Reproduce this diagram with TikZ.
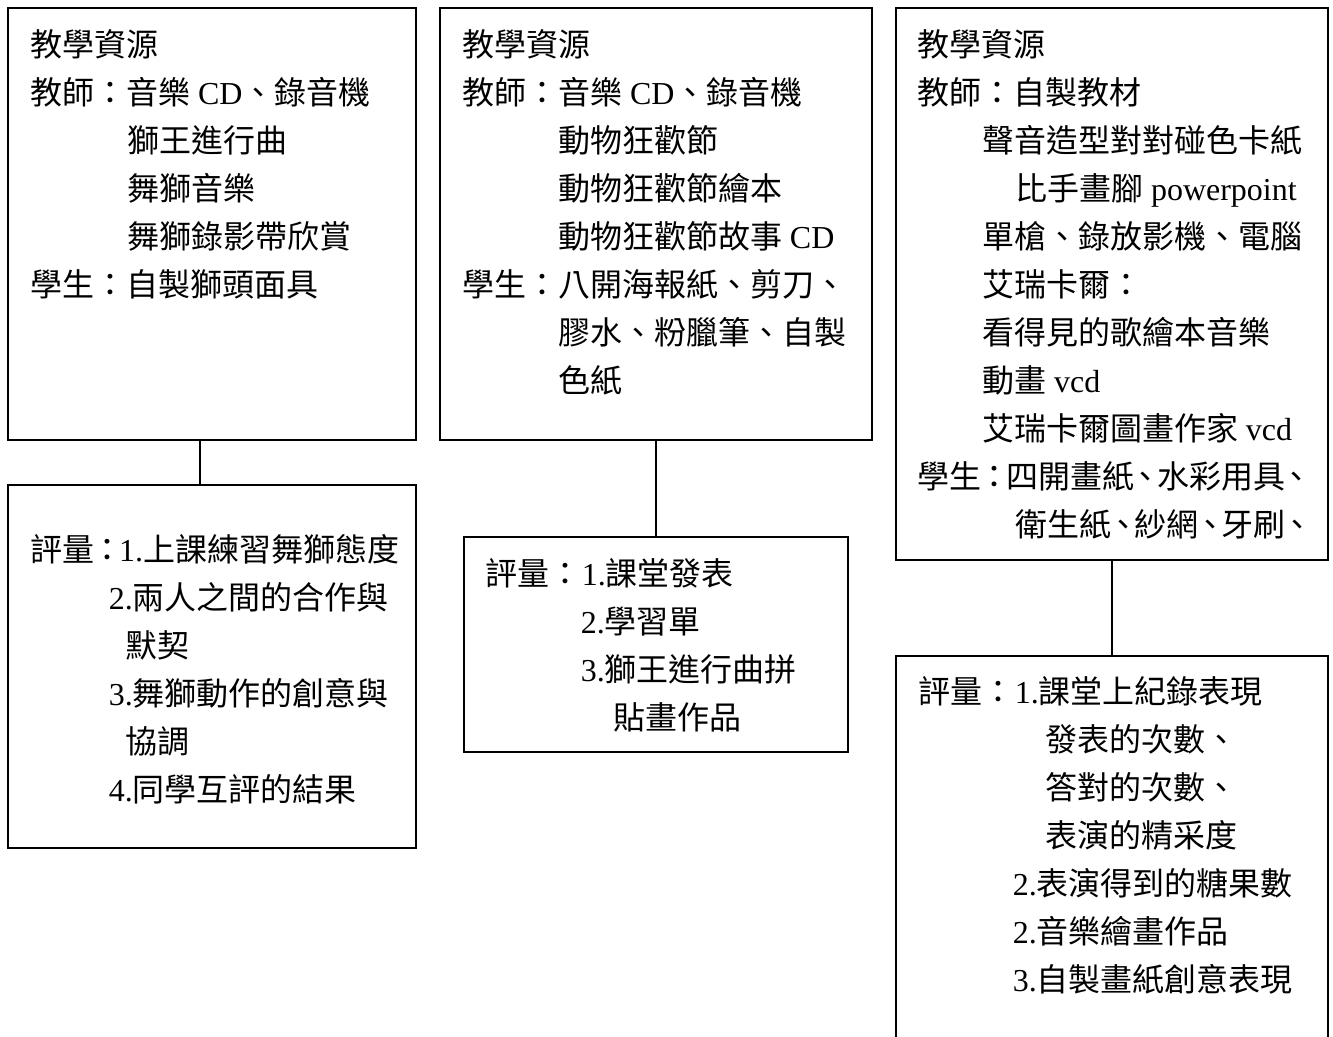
\documentclass[tikz,border=0pt]{standalone}
\usepackage{fontspec}
\newfontfamily\cjk{Noto Sans CJK TC}
\newfontfamily\romfont{Liberation Serif}
\newcommand\rom[1]{{\romfont #1}}
\newlength\px
\setlength\px{0.02cm}
\newcommand\ind[1]{\hspace*{#1\px}}
\newcommand\dun{\makebox[0.72em]{、}}
\newcommand\mao{\makebox[0.76em]{：}}
\begin{document}
\begin{tikzpicture}[x=0.02cm, y=-0.02cm, line width=1.1pt,
    box/.style={draw, rectangle, inner sep=0pt},
    txt/.style={anchor=north west, inner sep=0pt, align=left,
      font=\cjk\fontsize{18.2pt}{27.3pt}\selectfont}]
  \useasboundingbox (0,0) rectangle (1333,1037);
  \clip (0,0) rectangle (1333,1037);
  % boxes
  \node[box, minimum width=8.16cm, minimum height=8.64cm] (resA) at (212,224) {};
  \node[box, minimum width=8.16cm, minimum height=7.26cm] (evalA) at (212,666.5) {};
  \node[box, minimum width=8.64cm, minimum height=8.64cm] (resB) at (656,224) {};
  \node[box, minimum width=7.68cm, minimum height=4.30cm] (evalB) at (656,644.5) {};
  \node[box, minimum width=8.64cm, minimum height=11.04cm] (resC) at (1112,284) {};
  \node[box, minimum width=8.64cm, minimum height=8.88cm] (evalC) at (1112,878) {};
  % links
  \draw ([xshift=-0.24cm]resA.south) -- ([xshift=-0.24cm]evalA.north);
  \draw (resB.south) -- (evalB.north);
  \draw (resC.south) -- (evalC.north);
  % texts
  \node[txt] (resAtxt) at (30,29) {教學資源\\
    教師：音樂 \rom{CD}、錄音機\\
    \ind{97}獅王進行曲\\
    \ind{97}舞獅音樂\\
    \ind{97}舞獅錄影帶欣賞\\
    學生：自製獅頭面具};
  \node[txt] (resBtxt) at (462,29) {教學資源\\
    教師：音樂 \rom{CD}、錄音機\\
    \ind{96}動物狂歡節\\
    \ind{96}動物狂歡節繪本\\
    \ind{96}動物狂歡節故事 \rom{CD}\\
    學生：八開海報紙、剪刀、\\
    \ind{96}膠水、粉臘筆、自製\\
    \ind{96}色紙};
  \node[txt] (resCtxt) at (917,29) {教學資源\\
    教師：自製教材\\
    \ind{65}聲音造型對對碰色卡紙\\
    \ind{98}比手畫腳 \rom{powerpoint}\\
    \ind{65}單槍、錄放影機、電腦\\
    \ind{65}艾瑞卡爾：\\
    \ind{65}看得見的歌繪本音樂\\
    \ind{65}動畫 \rom{vcd}\\
    \ind{65}艾瑞卡爾圖畫作家 \rom{vcd}\\
    學生\mao 四開畫紙\dun 水彩用具\dun\\
    \ind{98}衛生紙\dun 紗網\dun 牙刷\dun};
  \node[txt] (evalAtxt) at (30,534) {評量\mao\rom{1.}上課練習舞獅態度\\
    \ind{78}\rom{2.}兩人之間的合作與\\
    \ind{95}默契\\
    \ind{78}\rom{3.}舞獅動作的創意與\\
    \ind{95}協調\\
    \ind{78}\rom{4.}同學互評的結果};
  \node[txt] (evalBtxt) at (485,558) {評量：\rom{1.}課堂發表\\
    \ind{95}\rom{2.}學習單\\
    \ind{95}\rom{3.}獅王進行曲拼\\
    \ind{128}貼畫作品};
  \node[txt] (evalCtxt) at (918,676) {評量：\rom{1.}課堂上紀錄表現\\
    \ind{127}發表的次數、\\
    \ind{127}答對的次數、\\
    \ind{127}表演的精采度\\
    \ind{94}\rom{2.}表演得到的糖果數\\
    \ind{94}\rom{2.}音樂繪畫作品\\
    \ind{94}\rom{3.}自製畫紙創意表現};
\end{tikzpicture}
\end{document}
